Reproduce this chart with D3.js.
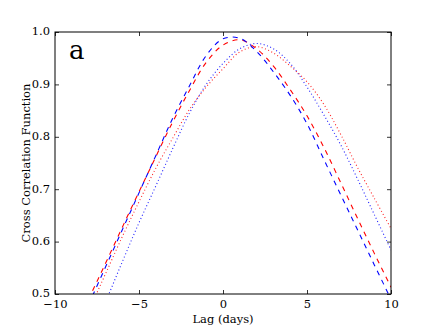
<!DOCTYPE html>
<html lang="en">
<head>
<meta charset="UTF-8">
<title>Cross correlation</title>
<script src="https://d3js.org/d3.v7.min.js"></script>
<style>
  body { margin: 0; background: #fff; }
</style>
</head>
<body>
<div id="chart"></div>
<script>
// lags (days) and cross correlation values
const lags = [-10, -9, -8, -7, -6, -5, -4, -3, -2, -1, 0, 1, 2, 3, 4, 5, 6, 7, 8, 9, 10];
const blueDashed = [0.34, 0.41, 0.480, 0.551, 0.622, 0.693, 0.764, 0.835, 0.897, 0.955, 0.987, 0.988, 0.963, 0.924, 0.879, 0.825, 0.757, 0.690, 0.623, 0.556, 0.490];
const redDashed  = [0.35, 0.42, 0.490, 0.558, 0.627, 0.695, 0.762, 0.828, 0.888, 0.942, 0.975, 0.985, 0.968, 0.935, 0.890, 0.840, 0.780, 0.713, 0.645, 0.578, 0.513];
const blueDotted = [0.27, 0.34, 0.410, 0.484, 0.561, 0.636, 0.706, 0.777, 0.845, 0.900, 0.940, 0.968, 0.978, 0.968, 0.940, 0.895, 0.842, 0.785, 0.720, 0.652, 0.584];
const redDotted  = [0.32, 0.395, 0.467, 0.538, 0.609, 0.676, 0.740, 0.797, 0.852, 0.895, 0.930, 0.962, 0.972, 0.960, 0.935, 0.905, 0.862, 0.805, 0.742, 0.683, 0.625];
const xTicks = [-10, -5, 0, 5, 10];
const yTicks = [0.5, 0.6, 0.7, 0.8, 0.9, 1.0];

const series = [
  { values: blueDotted, color: "#2222ff", dash: "1,2.5" },
  { values: redDotted, color: "#ff2222", dash: "1,2.5" },
  { values: redDashed, color: "#ff0000", dash: "5,5" },
  { values: blueDashed, color: "#0000ff", dash: "5,5" }
];

const serif = "'DejaVu Serif', serif";
const width = 436, height = 327;
const margin = { top: 32, right: 45, bottom: 33, left: 55 };
const w = width - margin.left - margin.right;
const h = height - margin.top - margin.bottom;

const svg = d3.select("#chart").append("svg")
  .attr("width", width)
  .attr("height", height);

const g = svg.append("g").attr("transform", `translate(${margin.left},${margin.top})`);

const x = d3.scaleLinear().domain([-10, 10]).range([0, w]);
const y = d3.scaleLinear().domain([0.5, 1.0]).range([h, 0]);

g.append("clipPath").attr("id", "clip")
  .append("rect").attr("width", w).attr("height", h);

const line = d3.line()
  .x((d, i) => x(lags[i]))
  .y(d => y(d))
  .curve(d3.curveCatmullRom.alpha(0.5));

g.append("g").attr("clip-path", "url(#clip)")
  .selectAll("path")
  .data(series)
  .enter()
  .append("path")
  .attr("d", d => line(d.values))
  .attr("fill", "none")
  .attr("stroke", d => d.color)
  .attr("stroke-width", 1.1)
  .attr("stroke-dasharray", d => d.dash);

// axes with inward ticks on all sides
const fmtX = d => d < 0 ? "\u2212" + Math.abs(d) : d;
const axBottom = g.append("g").attr("transform", `translate(0,${h})`)
  .call(d3.axisBottom(x).tickValues(xTicks).tickSize(-4).tickPadding(6).tickFormat(fmtX));
const axTop = g.append("g")
  .call(d3.axisTop(x).tickValues(xTicks).tickSize(-4).tickFormat(""));
const axLeft = g.append("g")
  .call(d3.axisLeft(y).tickValues(yTicks).tickSize(-4).tickPadding(5).tickFormat(d3.format(".1f")));
const axRight = g.append("g").attr("transform", `translate(${w},0)`)
  .call(d3.axisRight(y).tickValues(yTicks).tickSize(-4).tickFormat(""));

[axBottom, axTop, axLeft, axRight].forEach(a => {
  a.attr("font-family", serif);
  a.select(".domain").remove();
  a.selectAll(".tick line").attr("stroke", "#000").attr("stroke-width", 0.8);
  a.selectAll("text").attr("font-size", 11.5).attr("fill", "#000")
    .style("font-family", serif);
});
axLeft.selectAll("text").attr("dy", "0.25em");

g.append("text")
  .attr("x", 14).attr("y", 27)
  .attr("font-size", 26)
  .style("font-family", serif)
  .text("a");

g.append("rect")
  .attr("width", w).attr("height", h)
  .attr("fill", "none").attr("stroke", "#000").attr("stroke-width", 1);

svg.append("text")
  .attr("x", margin.left + w / 2).attr("y", height - 4)
  .attr("text-anchor", "middle").attr("font-size", 11.5)
  .style("font-family", serif)
  .text("Lag (days)");

svg.append("text")
  .attr("transform", `translate(30,${margin.top + h / 2}) rotate(-90)`)
  .attr("text-anchor", "middle").attr("font-size", 11.5)
  .style("font-family", serif)
  .text("Cross Correlation Function");
</script>
</body>
</html>
